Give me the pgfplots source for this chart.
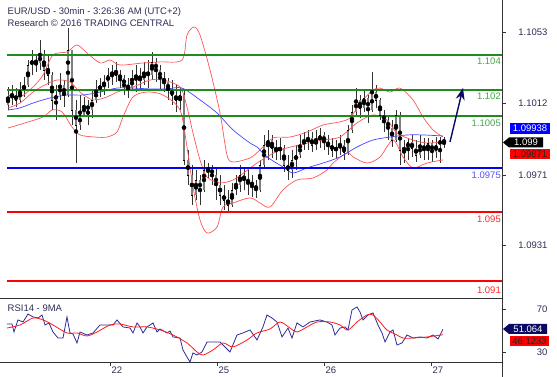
\documentclass[border=0pt]{standalone}
\usepackage{fontspec}
\setmainfont{Liberation Sans}
\usepackage{pgfplots}
\pgfplotsset{compat=1.18}
\usepackage{pgfplotstable}
\usetikzlibrary{arrows.meta}

\definecolor{gline}{RGB}{30,140,30}
\definecolor{glab}{RGB}{70,165,70}
\definecolor{txt}{RGB}{45,45,85}
\definecolor{bb}{RGB}{255,85,85}
\definecolor{ma}{RGB}{70,70,255}
\definecolor{navy}{RGB}{10,10,100}
\definecolor{rsiblue}{RGB}{45,45,150}
\definecolor{lblue}{RGB}{80,80,255}
\definecolor{lred}{RGB}{255,40,40}
\definecolor{pblue}{RGB}{0,0,255}
\definecolor{pred}{RGB}{255,0,0}

\pgfplotstableread{
x o h l c
8 1.10112 1.10215 1.10083 1.10158
12 1.10158 1.10227 1.10112 1.10169
16 1.10169 1.10209 1.10100 1.10141
20 1.10141 1.10244 1.10123 1.10198
24 1.10198 1.10272 1.10158 1.10227
28 1.10227 1.10370 1.10215 1.10341
32 1.10341 1.10427 1.10284 1.10370
36 1.10370 1.10399 1.10301 1.10353
40 1.10353 1.10485 1.10313 1.10399
44 1.10399 1.10427 1.10255 1.10313
48 1.10313 1.10399 1.10227 1.10284
52 1.10284 1.10301 1.10083 1.10141
56 1.10141 1.10227 1.10026 1.10169
60 1.10169 1.10295 1.10141 1.10227
64 1.10227 1.10255 1.10100 1.10169
68 1.10169 1.10553 1.10158 1.10427
72 1.10427 1.10427 1.09997 1.10083
76 1.10083 1.10141 1.09779 1.09997
80 1.09997 1.10169 1.09969 1.10055
84 1.10055 1.10158 1.10043 1.10112
88 1.10112 1.10141 1.09997 1.10083
92 1.10083 1.10198 1.10037 1.10141
96 1.10141 1.10255 1.10123 1.10198
100 1.10198 1.10267 1.10158 1.10227
104 1.10227 1.10284 1.10169 1.10244
108 1.10244 1.10324 1.10209 1.10284
112 1.10284 1.10341 1.10227 1.10301
116 1.10301 1.10359 1.10244 1.10284
120 1.10284 1.10313 1.10209 1.10267
124 1.10267 1.10284 1.10169 1.10227
128 1.10227 1.10267 1.10152 1.10209
132 1.10209 1.10313 1.10198 1.10267
136 1.10267 1.10341 1.10186 1.10284
140 1.10284 1.10324 1.10198 1.10255
144 1.10255 1.10359 1.10227 1.10301
148 1.10301 1.10370 1.10209 1.10284
152 1.10284 1.10416 1.10255 1.10359
156 1.10359 1.10381 1.10244 1.10313
160 1.10313 1.10341 1.10198 1.10267
164 1.10267 1.10301 1.10186 1.10244
168 1.10244 1.10267 1.10141 1.10198
172 1.10198 1.10255 1.10112 1.10169
176 1.10169 1.10227 1.10072 1.10141
180 1.10141 1.10209 1.10083 1.10169
184 1.10169 1.10198 1.09768 1.09797
188 1.09797 1.09854 1.09653 1.09711
192 1.09711 1.09768 1.09539 1.09596
196 1.09596 1.09739 1.09567 1.09682
200 1.09682 1.09711 1.09539 1.09625
204 1.09625 1.09797 1.09613 1.09739
208 1.09739 1.09779 1.09693 1.09751
212 1.09751 1.09768 1.09653 1.09711
216 1.09711 1.09751 1.09567 1.09653
220 1.09653 1.09711 1.09539 1.09596
224 1.09596 1.09653 1.09510 1.09567
228 1.09567 1.09625 1.09493 1.09539
232 1.09539 1.09665 1.09527 1.09625
236 1.09625 1.09711 1.09596 1.09653
240 1.09653 1.09768 1.09613 1.09711
244 1.09711 1.09751 1.09625 1.09682
248 1.09682 1.09739 1.09596 1.09670
252 1.09670 1.09711 1.09584 1.09653
256 1.09653 1.09682 1.09579 1.09625
260 1.09625 1.09797 1.09613 1.09768
264 1.09768 1.09940 1.09751 1.09883
268 1.09883 1.09969 1.09797 1.09911
272 1.09911 1.09940 1.09808 1.09865
276 1.09865 1.09911 1.09797 1.09854
280 1.09854 1.09923 1.09797 1.09865
284 1.09865 1.09883 1.09728 1.09768
288 1.09768 1.09825 1.09682 1.09739
292 1.09739 1.09854 1.09693 1.09797
296 1.09797 1.09883 1.09739 1.09825
300 1.09825 1.09940 1.09808 1.09883
304 1.09883 1.09957 1.09854 1.09911
308 1.09911 1.09969 1.09854 1.09923
312 1.09923 1.09957 1.09842 1.09883
316 1.09883 1.09969 1.09854 1.09911
320 1.09911 1.09980 1.09865 1.09940
324 1.09940 1.09957 1.09854 1.09900
328 1.09900 1.09940 1.09825 1.09883
332 1.09883 1.09923 1.09814 1.09854
336 1.09854 1.09911 1.09808 1.09865
340 1.09865 1.09940 1.09825 1.09883
344 1.09883 1.09911 1.09797 1.09842
348 1.09842 1.09997 1.09825 1.09969
352 1.09969 1.10112 1.09951 1.10072
356 1.10072 1.10209 1.10055 1.10141
360 1.10141 1.10169 1.10037 1.10095
364 1.10095 1.10198 1.10072 1.10152
368 1.10152 1.10169 1.10009 1.10083
372 1.10083 1.10301 1.10072 1.10186
376 1.10186 1.10227 1.10095 1.10141
380 1.10141 1.10152 1.10026 1.10055
384 1.10055 1.10083 1.09957 1.10026
388 1.10026 1.10055 1.09911 1.09980
392 1.09980 1.10026 1.09871 1.09911
396 1.09911 1.10083 1.09900 1.10055
400 1.10055 1.10072 1.09768 1.09854
404 1.09854 1.09911 1.09779 1.09865
408 1.09865 1.09923 1.09797 1.09900
412 1.09900 1.09940 1.09814 1.09865
416 1.09865 1.09911 1.09785 1.09825
420 1.09825 1.09940 1.09808 1.09883
424 1.09883 1.09923 1.09797 1.09854
428 1.09854 1.09923 1.09797 1.09894
432 1.09894 1.09911 1.09785 1.09842
436 1.09842 1.09928 1.09808 1.09883
440 1.09883 1.09928 1.09779 1.09911
444 1.09911 1.09928 1.09865 1.09900
}\candles

\begin{document}
\begin{tikzpicture}[x=1pt,y=1pt,font=\fontsize{9.5}{11}\selectfont]
\path[use as bounding box] (0,0) rectangle (557,377);

% ---------------- price panel ----------------
\begin{axis}[
  at={(0pt,79pt)}, anchor=south west, scale only axis,
  width=502pt, height=298pt,
  xmin=0, xmax=502, ymin=1.09005, ymax=1.10714,
  axis x line*=bottom, axis y line*=right,
  axis line style={line width=0.8pt, black!80},
  xtick=\empty,
  ytick={1.0931,1.0971,1.1012,1.1053},
  yticklabels={1.0931,1.0971,1.1012,1.1053},
  scaled y ticks=false,
  tick align=outside, major tick length=4pt,
  tick style={black!80, line width=0.6pt},
  yticklabel style={anchor=east, xshift=45pt, text=txt, font=\fontsize{9.5}{11}\selectfont},
]
% wicks
\addplot[only marks, mark=none, error bars/.cd, y dir=both, y explicit, error mark=none,
  error bar style={draw=black!80, line width=0.5pt}]
  table[x=x, y expr={(\thisrow{h}+\thisrow{l})/2}, y error expr={(\thisrow{h}-\thisrow{l})/2}] {\candles};
% bodies
\addplot[only marks, mark=none, error bars/.cd, y dir=both, y explicit, error mark=none,
  error bar style={draw=black!50, line width=2.6pt, line cap=butt}]
  table[x=x, y expr={(\thisrow{o}+\thisrow{c})/2}, y error expr={abs(\thisrow{c}-\thisrow{o})/2}] {\candles};
% close ticks
\addplot[only marks, mark=-, mark size=1pt, mark options={black, line width=0.5pt}]
  table[x=x, y=c] {\candles};

% Bollinger bands
\addplot[bb, line width=0.7pt, smooth] coordinates {
(8,1.10169) (20,1.10158) (33,1.10215) (43,1.10284) (53,1.10399) (67,1.10416) (77,1.10456)
(87,1.10410) (100,1.10353) (110,1.10370) (120,1.10341) (143,1.10353) (160,1.10359) (182,1.10370)
(187,1.10513) (194,1.10559) (200,1.10513) (210,1.10313) (220,1.10066) (227,1.09825) (233,1.09785)
(250,1.09808) (260,1.09854) (273,1.09923) (290,1.09928) (307,1.09957) (323,1.09997) (340,1.10015)
(350,1.10037) (357,1.10095) (363,1.10141) (373,1.10198) (380,1.10209) (390,1.10186) (400,1.10209)
(413,1.10141) (423,1.10043) (433,1.09969) (443,1.09928)};
\addplot[bb, line width=0.7pt, smooth] coordinates {
(8,1.10095) (20,1.10123) (33,1.10186) (45,1.10227) (57,1.10255) (70,1.10244) (80,1.10186)
(93,1.10141) (107,1.10158) (117,1.10186) (133,1.10215) (150,1.10255) (163,1.10255) (180,1.10215)
(187,1.10100) (193,1.09951) (200,1.09797) (207,1.09699) (220,1.09665) (233,1.09682) (245,1.09728)
(257,1.09779) (267,1.09814) (280,1.09854) (300,1.09883) (323,1.09911) (340,1.09928) (357,1.10009)
(373,1.10055) (387,1.10026) (397,1.09951) (413,1.09911) (427,1.09894) (443,1.09900)};
\addplot[bb, line width=0.7pt, smooth] coordinates {
(8,1.09980) (25,1.10009) (43,1.10043) (52,1.10083) (62,1.10072) (72,1.09986) (80,1.09940)
(95,1.09928) (107,1.09928) (117,1.09957) (123,1.10043) (133,1.10158) (147,1.10186) (163,1.10169)
(180,1.10083) (187,1.09871) (193,1.09642) (200,1.09453) (207,1.09378) (217,1.09412) (223,1.09527)
(233,1.09550) (250,1.09579) (260,1.09550) (270,1.09527) (283,1.09625) (297,1.09682) (313,1.09693)
(327,1.09739) (333,1.09779) (347,1.09837) (353,1.09814) (367,1.09779) (380,1.09814) (393,1.09911)
(403,1.09814) (413,1.09751) (427,1.09779) (443,1.09797)};
% moving average
\addplot[ma, line width=0.7pt, smooth] coordinates {
(8,1.10083) (20,1.10095) (33,1.10123) (50,1.10152) (67,1.10169) (83,1.10169) (100,1.10186)
(117,1.10209) (133,1.10209) (150,1.10204) (167,1.10204) (182,1.10209) (200,1.10141) (217,1.10066)
(233,1.09969) (250,1.09894) (257,1.09871) (267,1.09814) (283,1.09756) (293,1.09722) (307,1.09751)
(323,1.09779) (340,1.09814) (357,1.09871) (373,1.09911) (390,1.09928) (407,1.09940) (423,1.09940)
(443,1.09934)};

% levels
\addplot[draw=gline, line width=2pt] coordinates {(7,1.1040) (502,1.1040)};
\addplot[draw=gline, line width=2pt] coordinates {(7,1.1020) (502,1.1020)};
\addplot[draw=gline, line width=2pt] coordinates {(7,1.1005) (502,1.1005)};
\addplot[draw=pblue, line width=2pt] coordinates {(7,1.0975) (502,1.0975)};
\addplot[draw=pred, line width=2pt] coordinates {(7,1.0950) (502,1.0950)};
\addplot[draw=pred, line width=2pt] coordinates {(7,1.0910) (502,1.0910)};

% projection arrow
\addplot[navy, line width=1.4pt, -{Stealth[length=12pt,width=9pt]}] coordinates {(450,1.0990) (463,1.1021)};
\end{axis}

% ---------------- RSI panel ----------------
\begin{axis}[
  at={(0pt,15pt)}, anchor=south west, scale only axis,
  width=502pt, height=64pt,
  xmin=0, xmax=502, ymin=20.7, ymax=80.2,
  axis x line*=bottom, axis y line*=right,
  axis line style={line width=0.8pt, black!80},
  xtick={110,217,324,431}, xticklabels={22,25,26,27},
  ytick={30,70}, yticklabels={30,70},
  tick align=outside, major tick length=4pt,
  tick style={black!80, line width=0.6pt},
  xticklabel style={anchor=north west, inner sep=0pt, xshift=1.5pt, yshift=-1pt, text=txt, font=\fontsize{9.5}{11}\selectfont},
  yticklabel style={anchor=east, xshift=45pt, text=txt, font=\fontsize{9.5}{11}\selectfont},
]
\addplot[rsiblue, line width=0.8pt] coordinates {
(7,56.0) (12,56.0) (14,48.6) (18,59.8) (23,57.9) (28,65.3) (33,62.6) (38,61.6) (42,64.4) (45,55.1)
(49,57.0) (53,48.6) (58,43.0) (63,43.0) (67,62.6) (70,47.7) (73,46.7) (77,38.4) (80,48.6) (87,45.8)
(93,47.7) (100,55.1) (107,55.1) (113,55.1) (117,59.8) (123,53.3) (130,52.3) (133,47.7) (137,57.0)
(140,53.3) (143,47.7) (147,53.3) (153,57.0) (157,48.6) (160,51.4) (167,47.7) (170,49.5) (173,44.0)
(180,43.0) (183,31.9) (187,25.3) (190,20.7) (193,29.1) (197,27.2) (202,30.0) (207,39.3) (220,39.3)
(230,30.0) (237,45.8) (243,47.7) (250,50.5) (257,41.2) (263,53.3) (267,64.4) (272,61.6) (277,57.9)
(282,44.0) (288,52.3) (292,43.0) (297,57.0) (303,53.3) (310,57.9) (320,59.8) (327,57.9) (332,55.1)
(335,45.8) (340,52.3) (345,53.3) (348,50.5) (352,69.1) (357,71.9) (360,67.2) (363,59.8) (368,64.4)
(373,66.3) (378,55.1) (382,47.7) (385,39.3) (390,48.6) (393,50.5) (397,36.5) (402,38.4) (407,45.8)
(413,43.0) (420,44.0) (427,43.0) (433,45.8) (438,42.1) (443,51.1)};
\addplot[red!90, line width=0.8pt, smooth] coordinates {
(7,52.3) (20,55.1) (33,61.6) (43,59.8) (53,55.1) (67,47.7) (77,47.7) (87,44.9) (97,48.6) (110,55.1)
(120,56.0) (133,53.3) (147,53.3) (160,50.5) (173,45.8) (187,38.4) (197,30.0) (203,27.2) (213,31.9)
(223,38.4) (233,34.7) (247,41.2) (257,47.7) (270,51.4) (280,57.9) (290,52.3) (297,48.6) (307,53.3)
(317,57.9) (330,57.9) (340,55.1) (348,50.5) (357,57.9) (367,64.4) (373,64.4) (380,57.9) (387,50.5)
(397,45.8) (403,43.0) (413,43.0) (427,44.0) (443,46.1)};
\end{axis}

\draw[black!80, line width=0.8pt] (502,0) -- (502,15);

% titles
\node[anchor=base west, inner sep=0, text=txt] at (7.5,362) {EUR/USD - 30min - 3:26:36 AM (UTC+2)};
\node[anchor=base west, inner sep=0, text=txt] at (7.5,350) {Research © 2016 TRADING CENTRAL};
\node[anchor=base west, inner sep=0, text=txt] at (7.5,65) {RSI14 - 9MA};

% level labels
\node[anchor=base east, inner sep=0, text=glab] at (501,312) {1.104};
\node[anchor=base east, inner sep=0, text=glab] at (501,277) {1.102};
\node[anchor=base east, inner sep=0, text=glab] at (501,250) {1.1005};
\node[anchor=base east, inner sep=0, text=lblue] at (501,198.5) {1.0975};
\node[anchor=base east, inner sep=0, text=lred] at (501,154) {1.095};
\node[anchor=base east, inner sep=0, text=lred] at (501,83) {1.091};

% value boxes
\fill[blue] (510,243) rectangle (550,254);
\node[text=white, inner sep=0] at (530,248.5) {1.09938};
\fill[black] (503,234.5) -- (509,239.5) -- (543,239.5) -- (543,229.5) -- (509,229.5) -- cycle;
\node[text=white, inner sep=0] at (526,234.5) {1.099};
\fill[red] (510,218) rectangle (550,228);
\node[text=black!85, inner sep=0] at (530,223) {1.09871};
\fill[navy] (503,48) -- (509,53) -- (547,53) -- (547,43) -- (509,43) -- cycle;
\node[text=white, inner sep=0] at (528,48) {51.064};
\fill[red] (510,31) rectangle (549,41);
\node[text=black!85, inner sep=0] at (529.5,36) {46.1233};
\end{tikzpicture}
\end{document}
